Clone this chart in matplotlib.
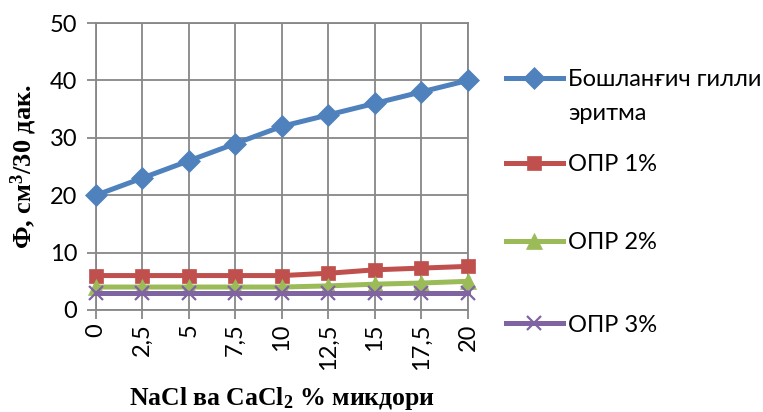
import matplotlib
matplotlib.use("Agg")
import matplotlib.pyplot as plt

# Salt concentration (NaCl + CaCl2), %
x_labels = ["0", "2,5", "5", "7,5", "10", "12,5", "15", "17,5", "20"]
x_values = [0, 2.5, 5, 7.5, 10, 12.5, 15, 17.5, 20]

# Filtration, cm3 / 30 min
base_clay = [20, 23, 26, 29, 32, 34, 36, 38, 40]
opr_1 = [6, 6, 6, 6, 6, 6.4, 7, 7.3, 7.6]
opr_2 = [4, 4, 4, 4, 4, 4.2, 4.5, 4.7, 5]
opr_3 = [3, 3, 3, 3, 3, 3, 3, 3, 3]

series = [
    ("Бошланғич гилли\nэритма", base_clay, "#4F81BD", "D", 11.5),
    ("ОПР 1%", opr_1, "#C0504D", "s", 10.5),
    ("ОПР 2%", opr_2, "#9BBB59", "^", 11),
    ("ОПР 3%", opr_3, "#8064A2", "x", 10.5),
]

plt.rcParams["font.family"] = ["Lato", "DejaVu Sans"]
plt.rcParams["mathtext.fontset"] = "custom"
plt.rcParams["mathtext.rm"] = "Liberation Serif:bold"
plt.rcParams["mathtext.it"] = "Liberation Serif:bold"
plt.rcParams["mathtext.bf"] = "Liberation Serif:bold"

fig = plt.figure(figsize=(7.63, 4.12), dpi=100)
ax = fig.add_axes([96 / 763, 1 - 310 / 412, 372 / 763, 287 / 412])

grid_c = "#878787"
for label, vals, color, marker, ms in series:
    ax.plot(x_values, vals, color=color, lw=3.6, marker=marker, ms=ms,
            mew=1.6 if marker == "x" else 0.5, mec=color, mfc=color,
            clip_on=False, zorder=3, label=label)

ax.set_xlim(0, 20)
ax.set_ylim(0, 50)
ax.set_yticks([0, 10, 20, 30, 40, 50])
ax.set_xticks(x_values)
ax.set_xticklabels(x_labels, rotation=90)
ax.grid(True, color=grid_c, lw=1.3)
for s in ax.spines.values():
    s.set_color(grid_c)
    s.set_linewidth(1.3)
ax.tick_params(axis="both", colors=grid_c, labelcolor="black", labelsize=17,
               length=6.5, width=1.3)
ax.tick_params(axis="x", pad=3)
ax.tick_params(axis="y", pad=7)

serif = ["Liberation Serif", "DejaVu Serif"]
ax.set_ylabel("Ф, см$^3$/30 дак.", family=serif, fontsize=19, fontweight="bold",
              labelpad=8)
ax.set_xlabel("NaCl ва CaCl$_2$ % микдори", family=serif, fontsize=18.5,
              fontweight="bold", labelpad=11)

# Legend entries placed one by one down the right side
lines = ax.get_lines()
entry_y = [80, 165, 243, 325]
for line, yy in zip(lines, entry_y):
    lab = line.get_label()
    first = lab.split("\n")[0]
    fig.legend([line], [first], loc="center left",
               bbox_to_anchor=(506 / 763, 1 - yy / 412),
               frameon=False, fontsize=17, handlelength=2.4,
               handletextpad=0.22, borderpad=0, borderaxespad=0)
    if "\n" in lab:
        fig.text(568 / 763, 1 - 114 / 412, lab.split("\n")[1], fontsize=17,
                 va="center", ha="left")

fig.savefig("out.png", dpi=100)
